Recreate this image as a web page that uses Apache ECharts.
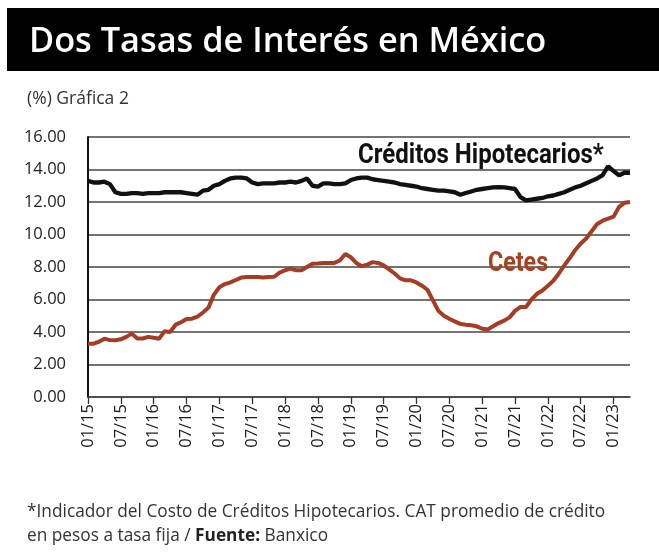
<!DOCTYPE html>
<html>
<head>
<meta charset="utf-8">
<script src="https://cdn.jsdelivr.net/npm/echarts@6/dist/echarts.min.js"></script>
<style>
html,body{margin:0;padding:0;background:#fff;}
#chart{width:659px;height:556px;}
</style>
</head>
<body>
<div id="chart"></div>
<script>
// Monthly categories 01/15 .. 04/23
var years = [15,16,17,18,19,20,21,22,23];
var categories = [];
years.forEach(function(y){
  for (var m = 1; m <= 12; m++) {
    if (y === 23 && m > 4) break;
    categories.push((m < 10 ? '0' + m : '' + m) + '/' + y);
  }
});

var creditosHipotecarios = [
  13.3,13.2,13.2,13.25,13.1,12.6,12.5,12.5,12.55,12.55,12.5,12.55,
  12.55,12.55,12.6,12.6,12.6,12.6,12.55,12.5,12.45,12.7,12.75,13.0,
  13.1,13.3,13.45,13.5,13.5,13.45,13.2,13.1,13.15,13.15,13.15,13.2,
  13.2,13.25,13.2,13.3,13.45,13.0,12.95,13.15,13.15,13.1,13.1,13.15,
  13.35,13.45,13.5,13.5,13.4,13.35,13.3,13.25,13.2,13.1,13.05,13.0,
  12.95,12.85,12.8,12.75,12.7,12.7,12.65,12.6,12.45,12.55,12.65,12.75,
  12.8,12.85,12.9,12.92,12.9,12.85,12.8,12.3,12.1,12.15,12.2,12.25,
  12.35,12.4,12.5,12.6,12.75,12.9,13.0,13.15,13.3,13.45,13.65,14.2,
  13.9,13.65,13.8,13.8
];

var cetes = [
  3.28,3.28,3.4,3.59,3.5,3.49,3.55,3.7,3.9,3.6,3.6,3.7,
  3.65,3.59,4.05,4.0,4.45,4.6,4.8,4.82,4.95,5.2,5.5,6.3,
  6.75,6.95,7.05,7.2,7.35,7.38,7.38,7.38,7.36,7.38,7.4,7.65,
  7.8,7.9,7.8,7.8,8.0,8.2,8.22,8.25,8.25,8.25,8.4,8.8,
  8.6,8.25,8.05,8.15,8.3,8.25,8.1,7.85,7.6,7.3,7.18,7.18,
  7.05,6.85,6.6,5.95,5.3,5.0,4.82,4.65,4.5,4.45,4.42,4.35,
  4.2,4.15,4.35,4.55,4.7,4.9,5.3,5.54,5.54,6.0,6.35,6.55,
  6.85,7.15,7.6,8.1,8.55,9.05,9.45,9.75,10.2,10.65,10.85,10.98,
  11.1,11.7,11.95,12.0
];

var yTicks = [0,2,4,6,8,10,12,14,16];

var chart = echarts.init(document.getElementById('chart'), null, {renderer:'canvas'});
var sixMonthly = function(idx){ return idx % 6 === 0; };

chart.setOption({
  backgroundColor: '#ffffff',
  animation: false,
  grid: { left: 88, right: 29, top: 137, bottom: 159, containLabel: false },
  xAxis: {
    type: 'category',
    data: categories,
    boundaryGap: false,
    axisLine: { show: true, lineStyle: { color: '#444', width: 1.5 } },
    axisTick: { show: true, interval: sixMonthly, length: 7, lineStyle: { color: '#333', width: 1.3 } },
    axisLabel: {
      interval: sixMonthly, rotate: 90, margin: 7,
      fontFamily: 'Open Sans', fontSize: 16.5, color: '#1a1a1a'
    },
    splitLine: { show: false }
  },
  yAxis: {
    type: 'value',
    min: yTicks[0], max: yTicks[yTicks.length - 1], interval: 2,
    axisLine: { show: true, lineStyle: { color: '#111', width: 2 } },
    axisTick: { show: false },
    axisLabel: {
      margin: 22, fontFamily: 'Open Sans', fontSize: 16.5, color: '#222',
      formatter: function(v){ return v.toFixed(2); }
    },
    splitLine: { show: true, lineStyle: { color: '#444', width: 1.5 } }
  },
  series: [
    {
      name: 'Créditos Hipotecarios*', type: 'line', data: creditosHipotecarios,
      showSymbol: false, lineStyle: { color: '#111', width: 4.3 }, z: 3
    },
    {
      name: 'Cetes', type: 'line', data: cetes,
      showSymbol: false, lineStyle: { color: '#a63c24', width: 4 }, z: 3
    }
  ],
  graphic: [
    { type: 'rect', left: 7, top: 8, shape: { width: 652, height: 63 }, style: { fill: '#000' }, z: 0 },
    { type: 'text', x: 29, y: 42, scaleX: 0.98, z: 2,
      style: { text: 'Dos Tasas de Interés en México', fill: '#fff', font: '600 35px "Open Sans"', verticalAlign: 'middle' } },
    { type: 'text', x: 27, y: 99,
      style: { text: '(%) Gráfica 2', fill: '#333', font: '17.5px "Open Sans"', verticalAlign: 'middle' } },
    { type: 'text', x: 358, y: 156, scaleX: 0.89, z: 5,
      style: { text: 'Créditos Hipotecarios*', fill: '#111', font: 'bold 27px Roboto', verticalAlign: 'middle' } },
    { type: 'text', x: 488, y: 264, scaleX: 0.86, z: 5,
      style: { text: 'Cetes', fill: '#a8401f', font: 'bold 27px Roboto', verticalAlign: 'middle' } },
    { type: 'text', left: 27, top: 500,
      style: {
        text: '*Indicador del Costo de Créditos Hipotecarios. CAT promedio de crédito\n{n|en pesos a tasa fija / }{b|Fuente:}{n| Banxico}',
        fill: '#333', font: '17.3px "Open Sans"', lineHeight: 24,
        rich: {
          n: { fontFamily: 'Open Sans', fontSize: 17.3, fill: '#333', lineHeight: 24 },
          b: { fontFamily: 'Open Sans', fontSize: 17.3, fontWeight: 'bold', fill: '#222', lineHeight: 24 }
        }
      } }
  ]
});
</script>
</body>
</html>
